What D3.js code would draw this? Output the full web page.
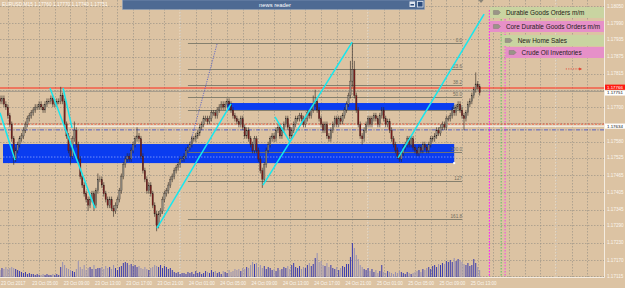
<!DOCTYPE html>
<html>
<head>
<meta charset="utf-8">
<script src="https://cdn.jsdelivr.net/npm/d3@7"></script>
<style>
body{margin:0;background:#dcc3a3;overflow:hidden}
svg{display:block;font-family:"Liberation Sans",Arial,sans-serif}
</style>
</head>
<body>
<svg id="chart"></svg>
<script>
// EURUSD M15 bars, [open, high, low, close] in pips above 1.17000
var candles = [
[73,74,71,72],[72,74,71,73],[73,74,70,71],[71,72,69,70],[70,71,66,67],[67,68,63,64],[64,65,58,59],[59,60,50,52],
[52,56,51,55],[55,58,54,57],[57,60,56,59],[59,61,58,60],[60,63,59,62],[62,65,61,64],[64,67,63,66],[66,68,65,67],
[67,69,66,68],[68,70,67,69],[69,71,68,70],[70,71,69,70],[70,72,69,71],[71,72,69,70],[70,71,68,69],[69,72,68,71],
[71,73,70,72],[72,73,71,72],[72,74,71,73],[73,74,70,71],[71,72,70,71],[71,73,70,72],[72,73,71,72],[72,77,71,74],
[74,75,71,72],[72,73,63,64],[64,65,59,60],[60,61,54,55],[55,56,50,53],[53,60,52,59],[59,65,58,62],[62,63,56,57],
[57,58,51,52],[52,53,45,46],[46,47,42,43],[43,44,39,40],[40,41,37,38],[38,39,34,36],[36,39,35,38],[38,41,37,40],
[40,41,34,36],[36,42,35,41],[41,47,40,45],[45,46,44,45],[45,46,42,43],[43,44,39,40],[40,41,37,38],[38,39,35,36],
[36,39,35,38],[38,39,34,35],[35,36,32,34],[34,37,33,36],[36,39,35,38],[38,42,37,41],[41,47,40,46],[46,51,45,50],
[50,53,49,52],[52,54,51,53],[53,54,51,52],[52,56,51,55],[55,58,54,57],[57,60,56,59],[59,63,58,60],[60,61,58,59],
[59,60,52,53],[53,54,47,48],[48,49,44,45],[45,46,40,41],[41,44,40,43],[43,44,39,40],[40,41,35,36],[36,37,32,33],
[33,34,27,29],[29,34,28,33],[33,35,32,34],[34,39,33,38],[38,41,37,40],[40,42,39,41],[41,44,40,43],[43,46,42,45],
[45,47,44,46],[46,49,45,48],[48,50,47,49],[49,51,48,50],[50,53,49,52],[52,53,51,52],[52,54,51,53],[53,56,52,55],
[55,57,54,56],[56,58,55,57],[57,60,56,59],[59,60,58,59],[59,61,58,60],[60,62,59,61],[61,64,60,63],[63,65,62,64],
[64,67,63,66],[66,67,65,66],[66,67,64,65],[65,67,64,66],[66,69,65,68],[68,69,67,68],[68,69,66,67],[67,70,66,69],
[69,71,68,70],[70,72,69,71],[71,72,69,70],[70,72,69,71],[71,73,70,72],[72,73,70,71],[71,72,68,69],[69,70,66,67],
[67,68,65,66],[66,67,64,65],[65,66,63,64],[64,67,63,66],[66,67,62,63],[63,64,59,60],[60,63,59,62],[62,63,58,59],
[59,60,56,57],[57,58,54,55],[55,60,54,59],[59,60,54,55],[55,56,51,52],[52,53,47,48],[48,49,42,45],[45,51,44,50],
[50,56,49,55],[55,58,54,57],[57,60,56,59],[59,61,58,60],[60,61,58,59],[59,63,58,62],[62,64,61,63],[63,64,59,60],
[60,63,59,62],[62,65,61,64],[64,67,63,66],[66,67,62,63],[63,64,59,60],[60,63,59,62],[62,65,61,64],[64,67,63,66],
[66,67,65,66],[66,68,65,67],[67,68,65,66],[66,67,63,64],[64,67,63,66],[66,69,65,68],[68,69,66,67],[67,70,66,69],
[69,74,68,71],[71,76,70,72],[72,73,68,69],[69,70,65,66],[66,67,63,64],[64,65,61,62],[62,65,61,64],[64,65,59,60],
[60,61,58,59],[59,63,58,62],[62,65,61,64],[64,67,63,66],[66,67,63,64],[64,67,63,66],[66,67,64,65],[65,68,64,67],
[67,70,66,69],[69,72,68,71],[71,75,70,74],[74,86,73,79],[79,92,77,83],[83,86,73,74],[74,75,68,69],[69,70,63,64],
[64,65,59,60],[60,61,57,59],[59,63,58,62],[62,65,61,64],[64,67,63,66],[66,67,63,64],[64,67,63,66],[66,68,65,67],
[67,68,65,66],[66,67,63,64],[64,68,63,67],[67,70,66,69],[69,70,65,66],[66,67,63,64],[64,66,63,65],[65,66,61,62],
[62,63,58,59],[59,60,56,57],[57,58,54,55],[55,56,52,53],[53,54,51,52],[52,55,51,54],[54,57,53,56],[56,58,55,57],
[57,60,56,59],[59,60,56,57],[57,60,56,59],[59,60,55,56],[56,57,54,55],[55,56,53,54],[54,57,53,56],[56,57,54,55],
[55,58,54,57],[57,58,55,56],[56,57,54,55],[55,58,54,57],[57,60,56,59],[59,60,58,59],[59,61,58,60],[60,63,59,62],
[62,63,60,61],[61,64,60,63],[63,65,62,64],[64,65,62,63],[63,67,62,66],[66,67,65,66],[66,68,65,67],[67,70,66,69],
[69,70,67,68],[68,71,67,70],[70,72,69,71],[71,72,68,69],[69,70,66,67],[67,68,62,66],[66,69,65,68],[68,72,67,71],
[71,73,70,72],[72,75,71,74],[74,77,73,76],[76,82,75,78],[78,79,76,77],[77,78,74,75]
];

// tick volume of each bar
var volumes = [
210,270,240,300,240,270,300,270,240,210,180,150,120,150,90,120,90,
90,60,90,60,60,90,60,90,60,60,90,60,90,60,
300,450,360,270,240,210,180,150,240,480,
300,240,360,210,270,300,240,360,240,270,
270,300,240,330,270,300,240,360,270,210,300,330,420,
450,420,360,390,330,360,300,330,270,240,300,240,210,270,300,360,330,
300,360,270,330,300,240,270,210,150,120,150,90,120,120,90,150,
120,150,90,180,120,150,90,120,180,150,120,210,150,180,120,150,90,180,150,120,210,150,180,240,
210,240,180,270,240,300,270,360,450,390,420,300,360,270,330,
240,300,270,210,240,180,270,210,240,300,
270,330,240,360,420,300,270,330,240,300,270,
360,420,330,390,570,720,450,480,360,330,420,300,360,270,
240,300,210,270,330,300,390,390,600,1020,870,660,540,360,300,
240,210,270,180,240,150,210,120,180,360,150,120,180,150,120,90,150,120,180,150,
120,90,150,120,90,120,150,180,210,150,240,210,270,300,240,330,360,300,390,360,
420,390,480,450,510,450,570,480,540,510,450,390,360,420,330,360,540,420,300,210
];

var firstBar = "2017-10-23 01:00";
var timeLabels = ["23 Oct 2017","23 Oct 05:00","23 Oct 09:00","23 Oct 13:00","23 Oct 17:00","23 Oct 21:00",
  "24 Oct 01:00","24 Oct 05:00","24 Oct 09:00","24 Oct 13:00","24 Oct 17:00","24 Oct 21:00",
  "25 Oct 01:00","25 Oct 05:00","25 Oct 09:00","25 Oct 13:00"];
var priceTicks = [1.18050,1.17990,1.17935,1.17875,1.17815,1.17760,1.17700,1.17645,1.17580,
  1.17525,1.17465,1.17405,1.17345,1.17290,1.17230,1.17170,1.17115];

var bidPrice = 1.17751, askPrice = 1.17766;
var quote = ["EURUSD,M15", "1.17760", "1.17770", "1.17740", "1.17751"];

var fibLevels = [0, 23.6, 38.2, 50, 61.8, 100, 127.2, 161.8];
var fibNames = ["0.0","23.6","38.2","50.0","61.8","100.0","127","161.8"];
var fibAnchor = [["2017-10-24 01:00", 1.17545], ["2017-10-24 04:45", 1.17922]];
var fibEnd = "2017-10-25 12:00";

// hand drawn cyan trend lines
var trendLines = [
  [["2017-10-23 01:00",1.17680],["2017-10-23 02:55",1.17517]],
  [["2017-10-23 07:23",1.17766],["2017-10-23 13:08",1.17350]],
  [["2017-10-23 09:03",1.17766],["2017-10-23 10:12",1.17628]],
  [["2017-10-23 21:03",1.17281],["2017-10-24 06:30",1.17711]],
  [["2017-10-24 10:35",1.17430],["2017-10-24 21:58",1.17925]],
  [["2017-10-24 12:07",1.17666],["2017-10-24 14:02",1.17579]],
  [["2017-10-25 03:50",1.17524],["2017-10-25 14:49",1.18022]]
];

// blue zones [from, to, low, high]
var zones = [
  ["2017-10-23 01:23","2017-10-25 11:00",1.17506,1.17572],
  ["2017-10-24 06:00","2017-10-25 11:00",1.17690,1.17714]
];
var zoneMid = 1.17527;

var levelLines = [
  {price:1.17641, color:"#e8402a", dash:"2,1.5", w:0.8},
  {price:1.17634, color:"#ffffff", dash:null, w:1},
  {price:1.17621, color:"#3248c8", dash:"4,1.5,1,1.5", w:0.8}
];
var whiteLabel = 1.17634;

var newsNames = ["Durable Goods Orders m/m","Core Durable Goods Orders m/m","New Home Sales","Crude Oil Inventories"];
var newsTimes = ["2017-10-25 15:30","2017-10-25 15:30","2017-10-25 17:00","2017-10-25 17:30"];
var newsColors = ["#c9d4a1","#e690c8","#c9d4a1","#e690c8"];
var newsLineColors = ["#ff20ff","#ff20ff","#3cc050","#ff20ff"];

var projection = [["2017-10-26 01:15",1.17832],["2017-10-26 03:20",1.17832]];

var W = 625, H = 288;
var plot = {right:604, bottom:277};
var parse = d3.utcParse("%Y-%m-%d %H:%M");

var svg = d3.select("#chart").attr("width", W).attr("height", H);
svg.append("rect").attr("width", W).attr("height", H).attr("fill", "#dcc3a3");

var t0 = parse(firstBar);
var xScale = d3.scaleUtc()
  .domain([t0, parse("2017-10-26 00:00")])
  .range([0, 556]);
var yScale = d3.scaleLinear()
  .domain([1.17115, 1.18050])
  .range([276, 6]);
var pip = function(p){ return 1.17 + p / 10000; };
var barTime = function(i){ return d3.utcMinute.offset(t0, 15 * i); };
var vScale = d3.scaleLinear().domain([0, 1200]).range([0, 40]);

var plotG = svg.append("g");

// grid
var gridTimes = d3.utcHour.every(2).range(t0, parse("2017-10-26 06:00"));
plotG.selectAll(".vg").data(gridTimes).enter().append("line")
  .attr("x1", function(d){ return Math.round(xScale(d)) + 0.5; })
  .attr("x2", function(d){ return Math.round(xScale(d)) + 0.5; })
  .attr("y1", 0).attr("y2", plot.bottom)
  .attr("stroke", "#9b9387").attr("stroke-width", 0.7).attr("stroke-dasharray", "1.5,1.5");
plotG.selectAll(".hg").data(priceTicks).enter().append("line")
  .attr("x1", 0).attr("x2", plot.right)
  .attr("y1", function(d){ return Math.round(yScale(d)) + 0.5; })
  .attr("y2", function(d){ return Math.round(yScale(d)) + 0.5; })
  .attr("stroke", "#9b9387").attr("stroke-width", 0.7).attr("stroke-dasharray", "1.5,1.5");

// day separators
var days = d3.utcDay.range(parse("2017-10-24 00:00"), parse("2017-10-26 01:00"));
plotG.selectAll(".day").data(days).enter().append("line")
  .attr("x1", function(d){ return xScale(d); }).attr("x2", function(d){ return xScale(d); })
  .attr("y1", 0).attr("y2", plot.bottom)
  .attr("stroke", "#f6eee2").attr("stroke-width", 0.9).attr("stroke-dasharray", "1.5,1.5");

// news lines
plotG.selectAll(".nl").data(newsTimes).enter().append("line")
  .attr("x1", function(d){ return xScale(parse(d)); }).attr("x2", function(d){ return xScale(parse(d)); })
  .attr("y1", 10).attr("y2", plot.bottom)
  .attr("stroke", function(d, i){ return newsLineColors[i]; })
  .attr("stroke-width", 0.8).attr("stroke-dasharray", "1.5,1.5");

// zones
plotG.selectAll(".zone").data(zones).enter().append("rect")
  .attr("x", function(d){ return xScale(parse(d[0])); })
  .attr("y", function(d){ return yScale(d[3]); })
  .attr("width", function(d){ return xScale(parse(d[1])) - xScale(parse(d[0])); })
  .attr("height", function(d){ return yScale(d[2]) - yScale(d[3]); })
  .attr("fill", "#0a3cf0");
plotG.append("line")
  .attr("x1", xScale(parse(zones[0][0]))).attr("x2", xScale(parse(zones[0][1])))
  .attr("y1", yScale(zoneMid)).attr("y2", yScale(zoneMid))
  .attr("stroke", "#9fb4ff").attr("stroke-width", 0.7).attr("stroke-dasharray", "1.5,1.5");
plotG.selectAll(".zc").data(zones).enter().append("rect")
  .attr("x", function(d){ return xScale(parse(d[1])) - 1; })
  .attr("y", function(d){ return yScale(d[2]) - 1; })
  .attr("width", 2).attr("height", 2).attr("fill", "#ffffff");

// level lines
plotG.append("line").attr("x1", 0).attr("x2", plot.right)
  .attr("y1", yScale(askPrice)).attr("y2", yScale(askPrice))
  .attr("stroke", "#ff2a1a").attr("stroke-width", 1);
plotG.append("line").attr("x1", 0).attr("x2", plot.right)
  .attr("y1", yScale(bidPrice) - 1).attr("y2", yScale(bidPrice) - 1)
  .attr("stroke", "#8f8a80").attr("stroke-width", 0.8);
plotG.selectAll(".lv").data(levelLines).enter().append("line")
  .attr("x1", 0).attr("x2", plot.right)
  .attr("y1", function(d){ return yScale(d.price); }).attr("y2", function(d){ return yScale(d.price); })
  .attr("stroke", function(d){ return d.color; })
  .attr("stroke-width", function(d){ return d.w; })
  .attr("stroke-dasharray", function(d){ return d.dash; });

// fibonacci
var fibX1 = xScale(parse(fibAnchor[0][0])), fibX2 = xScale(parse(fibEnd));
var fibPrice = function(l){ return fibAnchor[1][1] - (fibAnchor[1][1] - fibAnchor[0][1]) * l / 100; };
plotG.selectAll(".fib").data(fibLevels).enter().append("line")
  .attr("x1", fibX1).attr("x2", fibX2)
  .attr("y1", function(d){ return Math.round(yScale(fibPrice(d))) + 0.5; })
  .attr("y2", function(d){ return Math.round(yScale(fibPrice(d))) + 0.5; })
  .attr("stroke", "#7a7868").attr("stroke-width", 0.9);
plotG.selectAll(".fibt").data(fibLevels).enter().append("text")
  .attr("x", fibX2).attr("y", function(d){ return yScale(fibPrice(d)) - 1; })
  .attr("text-anchor", "end").attr("font-size", 4.6).attr("fill", "#6e6a5c")
  .text(function(d, i){ return fibNames[i]; });
plotG.append("line")
  .attr("x1", fibX1).attr("y1", yScale(fibAnchor[0][1]))
  .attr("x2", xScale(parse(fibAnchor[1][0]))).attr("y2", yScale(fibAnchor[1][1]))
  .attr("stroke", "#4a55c8").attr("stroke-width", 0.8).attr("stroke-dasharray", "1.2,1.2");

// volumes
plotG.selectAll(".vol").data(volumes).enter().append("rect")
  .attr("x", function(d, i){ return xScale(barTime(i)) - 0.5; })
  .attr("y", function(d){ return plot.bottom - vScale(d); })
  .attr("width", 1)
  .attr("height", function(d){ return vScale(d); })
  .attr("fill", function(d, i){ var c = candles[i]; return c && c[3] < c[0] ? "#9690b4" : "#3a3cae"; });

// candles
var cg = plotG.selectAll(".candle").data(candles).enter().append("g");
cg.append("line")
  .attr("x1", function(d, i){ return xScale(barTime(i)); })
  .attr("x2", function(d, i){ return xScale(barTime(i)); })
  .attr("y1", function(d){ return yScale(pip(d[1])); })
  .attr("y2", function(d){ return yScale(pip(d[2])); })
  .attr("stroke", "#2a2420").attr("stroke-width", 0.6);
cg.append("rect")
  .attr("x", function(d, i){ return xScale(barTime(i)) - 0.7; })
  .attr("y", function(d){ return yScale(pip(Math.max(d[0], d[3]))); })
  .attr("width", 1.4)
  .attr("height", function(d){ return Math.max(0.6, Math.abs(yScale(pip(d[0])) - yScale(pip(d[3])))); })
  .attr("fill", function(d){ return d[3] >= d[0] ? "#8d877d" : "#7a1c1c"; })
  .attr("stroke", "#2a2420").attr("stroke-width", 0.25);

// trend lines
plotG.selectAll(".tl").data(trendLines).enter().append("line")
  .attr("x1", function(d){ return xScale(parse(d[0][0])); })
  .attr("y1", function(d){ return yScale(d[0][1]); })
  .attr("x2", function(d){ return xScale(parse(d[1][0])); })
  .attr("y2", function(d){ return yScale(d[1][1]); })
  .attr("stroke", "#14e8f0").attr("stroke-width", 1.5);

// projection arrow
plotG.append("line")
  .attr("x1", xScale(parse(projection[0][0]))).attr("x2", xScale(parse(projection[1][0])) - 2)
  .attr("y1", yScale(projection[0][1])).attr("y2", yScale(projection[1][1]))
  .attr("stroke", "#e03a2a").attr("stroke-width", 0.8).attr("stroke-dasharray", "1.2,1.2");
var ax = xScale(parse(projection[1][0])), ay = yScale(projection[1][1]);
plotG.append("path").attr("d", "M" + ax + "," + ay + "l-3,-1.5v3z").attr("fill", "#e03a2a");

// news boxes
var boxTop = [7, 21, 35, 47];
var nb = plotG.selectAll(".news").data(newsNames).enter().append("g");
nb.append("rect")
  .attr("x", function(d, i){ return xScale(parse(newsTimes[i])) + 0.5; })
  .attr("y", function(d, i){ return boxTop[i]; })
  .attr("width", function(d, i){ return plot.right - xScale(parse(newsTimes[i])) - 0.5; })
  .attr("height", 11)
  .attr("fill", function(d, i){ return newsColors[i]; });
nb.append("path")
  .attr("d", function(d, i){
    var x = xScale(parse(newsTimes[i])) + 4, y = boxTop[i] + 3.5;
    return "M" + x + "," + y + "h5l2,2l-2,2h-5z";
  })
  .attr("fill", "#9a9488").attr("stroke", "#77726a").attr("stroke-width", 0.4);
nb.append("text")
  .attr("x", function(d, i){ return xScale(parse(newsTimes[i])) + 16.5; })
  .attr("y", function(d, i){ return boxTop[i] + 7.8; })
  .attr("font-size", 6.4).attr("fill", "#1e1c18")
  .text(function(d){ return d; });

// axes frame
svg.append("line").attr("x1", plot.right + 0.5).attr("x2", plot.right + 0.5).attr("y1", 0).attr("y2", plot.bottom + 0.5)
  .attr("stroke", "#f4ece0").attr("stroke-width", 1);
svg.append("line").attr("x1", 0).attr("x2", plot.right + 0.5).attr("y1", plot.bottom + 0.5).attr("y2", plot.bottom + 0.5)
  .attr("stroke", "#f4ece0").attr("stroke-width", 1);

// price labels (those under the price tags are hidden, as in the terminal)
var tags = [
  {price:askPrice, fill:"#ff1a10", color:"#ffffff", dy:-3.4},
  {price:bidPrice, fill:"#ffffff", color:"#111111", dy:-2},
  {price:whiteLabel, fill:"#ffffff", color:"#111111", dy:-2.6}
];
var shownTicks = priceTicks.filter(function(p){
  return tags.every(function(t){ return Math.abs(yScale(p) - yScale(t.price)) > 5; });
});
svg.selectAll(".pt").data(shownTicks).enter().append("text")
  .attr("x", 607).attr("y", function(d){ return yScale(d) + 1.6; })
  .attr("font-size", 4.6).attr("fill", "#fbf6ee")
  .text(function(d){ return d.toFixed(5); });
var tg = svg.selectAll(".tag").data(tags).enter().append("g");
tg.append("rect").attr("x", 605).attr("width", 20).attr("height", 5.2)
  .attr("y", function(d){ return yScale(d.price) + d.dy; })
  .attr("fill", function(d){ return d.fill; });
tg.append("text").attr("x", 607).attr("y", function(d){ return yScale(d.price) + d.dy + 4.1; })
  .attr("font-size", 4.4).attr("fill", function(d){ return d.color; })
  .text(function(d){ return d.price.toFixed(5); });

// time labels, one every 4 hours
svg.selectAll(".tt").data(timeLabels).enter().append("text")
  .attr("x", function(d, i){ return xScale(d3.utcHour.offset(t0, 4 * i)) + 1; })
  .attr("y", 284.5)
  .attr("font-size", 4.5).attr("fill", "#fbf6ee")
  .text(function(d){ return d; });

// header
svg.append("text").attr("x", 2).attr("y", 6).attr("font-size", 4.8).attr("fill", "#fffaf2")
  .text(quote.join(" "));

// news reader bar
svg.append("rect").attr("x", 122.5).attr("y", 0).attr("width", 302).attr("height", 9.5)
  .attr("fill", "#4e6a93").attr("stroke", "#8ea3c2").attr("stroke-width", 0.5);
svg.append("text").attr("x", 275).attr("y", 6.6).attr("text-anchor", "middle")
  .attr("font-size", 5.8).attr("fill", "#ffffff").text("news reader");
svg.append("rect").attr("x", 409.5).attr("y", 1.5).attr("width", 5.5).attr("height", 5.5).attr("fill", "#dfe6f0");
svg.append("rect").attr("x", 410.5).attr("y", 4).attr("width", 3.5).attr("height", 1.5).attr("fill", "#2d4c7c");
svg.append("rect").attr("x", 417.5).attr("y", 1.5).attr("width", 5.5).attr("height", 5.5)
  .attr("fill", "#2d4c7c").attr("stroke", "#dfe6f0").attr("stroke-width", 0.8);

// chart shift marker
svg.append("path").attr("d", "M478.5,0h5l-2.5,3z").attr("fill", "#8a8478");
</script>
</body>
</html>
